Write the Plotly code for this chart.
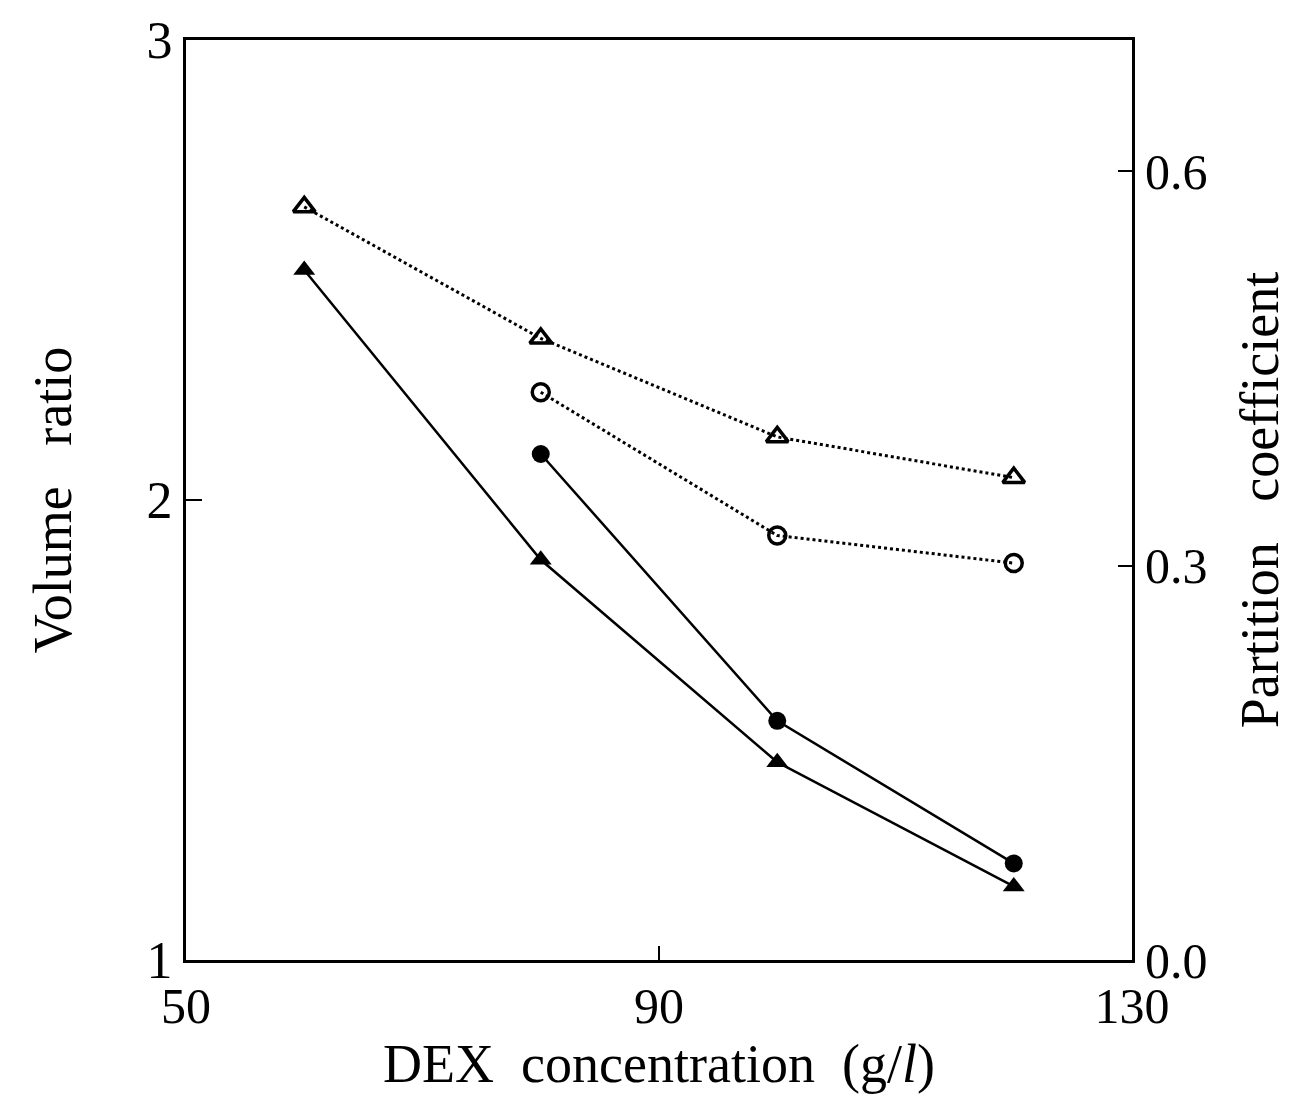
import plotly.graph_objects as go

# DEX concentration (g/l)
dex = [60, 80, 100, 120]

# Volume ratio (left axis), solid lines
vr_tri = [2.50, 1.87, 1.43, 1.16]
dex_circ = [80, 100, 120]
vr_circ = [2.10, 1.52, 1.21]

# Partition coefficient (right axis), dotted lines
pc_tri = [0.573, 0.473, 0.398, 0.367]
pc_circ = [0.432, 0.323, 0.302]

x_ticks = [50, 90, 130]
y1_ticks = [1, 2, 3]
y2_ticks = [0.0, 0.3, 0.6]
y2_labels = ["0.0", "0.3", "0.6"]

FONT = "Liberation Serif"
BLACK = "black"
GAP = "\u00a0\u00a0 "
XGAP = "\u00a0 "

fig = go.Figure()

fig.add_trace(go.Scatter(
    x=dex, y=pc_tri, yaxis="y2", mode="lines+markers",
    line=dict(color=BLACK, width=3, dash="dot"),
    marker=dict(symbol="triangle-up-open", size=19, color=BLACK, line=dict(width=3.5, color=BLACK)),
))
fig.add_trace(go.Scatter(
    x=dex_circ, y=pc_circ, yaxis="y2", mode="lines+markers",
    line=dict(color=BLACK, width=3, dash="dot"),
    marker=dict(symbol="circle-open", size=17, color=BLACK, line=dict(width=3.5, color=BLACK)),
))
fig.add_trace(go.Scatter(
    x=dex, y=vr_tri, mode="lines+markers",
    line=dict(color=BLACK, width=2.5),
    marker=dict(symbol="triangle-up", size=19, color=BLACK),
))
fig.add_trace(go.Scatter(
    x=dex_circ, y=vr_circ, mode="lines+markers",
    line=dict(color=BLACK, width=2.5),
    marker=dict(symbol="circle", size=18, color=BLACK),
))

fig.update_layout(
    width=1311, height=1102,
    margin=dict(l=186, r=179, t=36, b=142),
    paper_bgcolor="white", plot_bgcolor="white",
    showlegend=False,
    font=dict(family=FONT, color=BLACK, size=50),
    xaxis=dict(
        range=[50, 130], tickvals=x_ticks, ticks="inside", ticklen=14, tickwidth=2,
        tickcolor=BLACK, showline=True, linecolor=BLACK, linewidth=3, mirror=True,
        showgrid=False, zeroline=False, tickfont=dict(size=50),
        title=dict(text="DEX" + XGAP + "concentration" + XGAP + "(g/<i>l</i>)", font=dict(size=54), standoff=6),
    ),
    yaxis=dict(
        range=[1, 3], tickvals=y1_ticks, ticks="inside", ticklen=16, tickwidth=2,
        tickcolor=BLACK, showline=True, linecolor=BLACK, linewidth=3, mirror=True,
        showgrid=False, zeroline=False, tickfont=dict(size=52),
        title=dict(text="Volume" + GAP + "ratio", font=dict(size=54), standoff=58),
    ),
    yaxis2=dict(
        range=[0, 0.7], tickvals=y2_ticks, ticktext=y2_labels, overlaying="y", side="right",
        ticks="inside", ticklen=14, tickwidth=2, tickcolor=BLACK,
        showline=True, linecolor=BLACK, linewidth=3,
        showgrid=False, zeroline=False, tickfont=dict(size=50),
        title=dict(text="Partition" + GAP + "coefficient", font=dict(size=54), standoff=34),
    ),
)

fig.write_html("out.html")
